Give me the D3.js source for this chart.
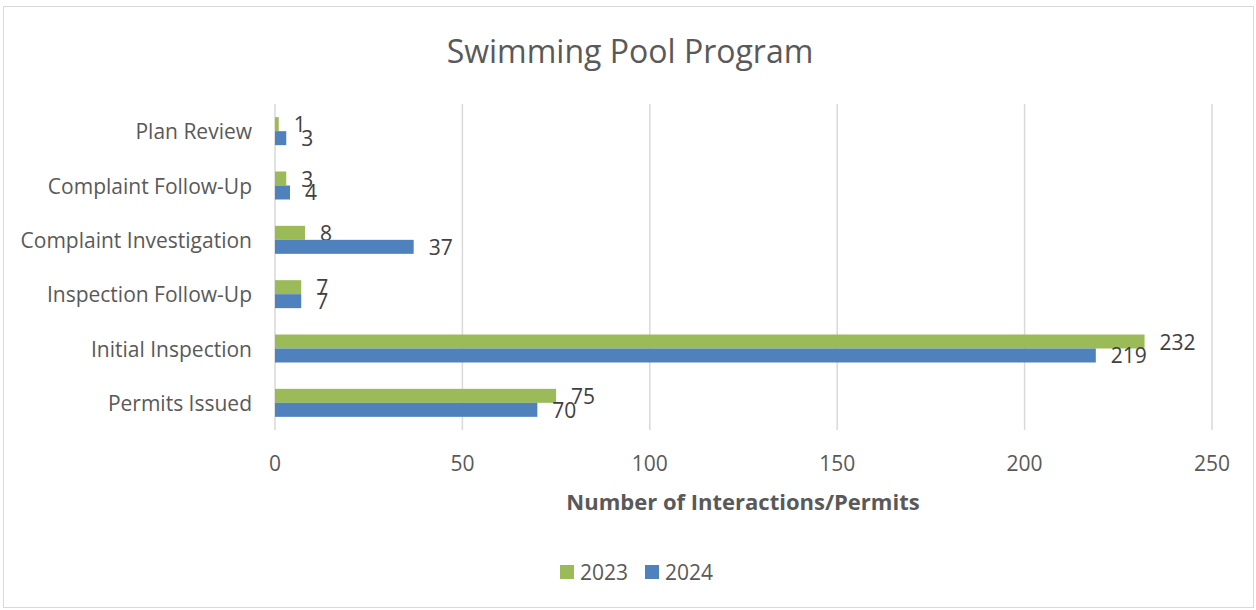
<!DOCTYPE html>
<html>
<head>
<meta charset="utf-8">
<script src="https://cdn.jsdelivr.net/npm/d3@7"></script>
<style>
  body { margin: 0; background: #fff; }
  svg text { font-family: "Open Sans", sans-serif; }
</style>
</head>
<body>
<svg id="chart" width="1256" height="610"></svg>
<script>
const categories = [
  'Plan Review',
  'Complaint Follow-Up',
  'Complaint Investigation',
  'Inspection Follow-Up',
  'Initial Inspection',
  'Permits Issued'
];
const seriesNames = ['2023', '2024'];
const values2023 = [1, 3, 8, 7, 232, 75];
const values2024 = [3, 4, 37, 7, 219, 70];
const xTicks = [0, 50, 100, 150, 200, 250];
const colors = ['#9BBB59', '#4F81BD'];

const svg = d3.select('#chart');
const textColor = '#595959';
const labelSize = 21;

// outer chart border
svg.append('rect')
  .attr('x', 3.5).attr('y', 6.5)
  .attr('width', 1250).attr('height', 601)
  .attr('fill', '#fff')
  .attr('stroke', '#d9d9d9');

const plot = { left: 275, right: 1212, top: 104, bottom: 430 };

const x = d3.scaleLinear()
  .domain([0, 250])
  .range([plot.left, plot.right]);

const y = d3.scaleBand()
  .domain(categories)
  .range([plot.top, plot.bottom])
  .paddingInner(0.485)
  .paddingOuter(0.2425);

const ySub = d3.scaleBand()
  .domain(seriesNames)
  .range([0, y.bandwidth()]);

// gridlines
svg.append('g')
  .selectAll('line')
  .data(xTicks)
  .join('line')
    .attr('x1', d => x(d)).attr('x2', d => x(d))
    .attr('y1', plot.top).attr('y2', plot.bottom)
    .attr('stroke', '#d9d9d9')
    .attr('stroke-width', 1.5);

// tick labels
svg.append('g')
  .selectAll('text')
  .data(xTicks)
  .join('text')
    .attr('x', d => x(d))
    .attr('y', 463)
    .attr('text-anchor', 'middle')
    .attr('dominant-baseline', 'central')
    .attr('font-size', labelSize)
    .attr('fill', textColor)
    .text(d => d);

// category labels
svg.append('g')
  .selectAll('text')
  .data(categories)
  .join('text')
    .attr('x', 252)
    .attr('y', d => y(d) + y.bandwidth() / 2)
    .attr('text-anchor', 'end')
    .attr('dominant-baseline', 'central')
    .attr('font-size', labelSize)
    .attr('fill', textColor)
    .text(d => d);

const rows = categories.map((c, i) => ({
  category: c,
  values: [values2023[i], values2024[i]]
}));

const groups = svg.append('g')
  .selectAll('g')
  .data(rows)
  .join('g')
    .attr('transform', d => `translate(0,${y(d.category)})`);

const bars = groups.selectAll('g')
  .data(d => d.values.map((v, j) => ({ series: seriesNames[j], value: v, j })))
  .join('g');

bars.append('rect')
  .attr('x', x(0))
  .attr('y', d => ySub(d.series))
  .attr('width', d => x(d.value) - x(0))
  .attr('height', ySub.bandwidth())
  .attr('fill', d => colors[d.j]);

bars.append('text')
  .attr('x', d => x(d.value) + 15)
  .attr('y', d => ySub(d.series) + ySub.bandwidth() / 2)
  .attr('dominant-baseline', 'central')
  .attr('font-size', labelSize)
  .attr('fill', '#404040')
  .text(d => d.value);

// title
svg.append('text')
  .attr('x', 630)
  .attr('y', 50)
  .attr('text-anchor', 'middle')
  .attr('dominant-baseline', 'central')
  .attr('font-size', 32)
  .attr('fill', textColor)
  .text('Swimming Pool Program');

// axis title
svg.append('text')
  .attr('x', 743)
  .attr('y', 501)
  .attr('text-anchor', 'middle')
  .attr('dominant-baseline', 'central')
  .attr('font-size', 22)
  .attr('font-weight', 'bold')
  .attr('fill', textColor)
  .text('Number of Interactions/Permits');

// legend
const legend = svg.append('g')
  .selectAll('g')
  .data(seriesNames)
  .join('g')
    .attr('transform', (d, i) => `translate(${560 + i * 85},572)`);

legend.append('rect')
  .attr('x', 0).attr('y', -7)
  .attr('width', 14).attr('height', 14)
  .attr('fill', (d, i) => colors[i]);

legend.append('text')
  .attr('x', 20)
  .attr('y', 0)
  .attr('dominant-baseline', 'central')
  .attr('font-size', labelSize)
  .attr('fill', textColor)
  .text(d => d);
</script>
</body>
</html>
